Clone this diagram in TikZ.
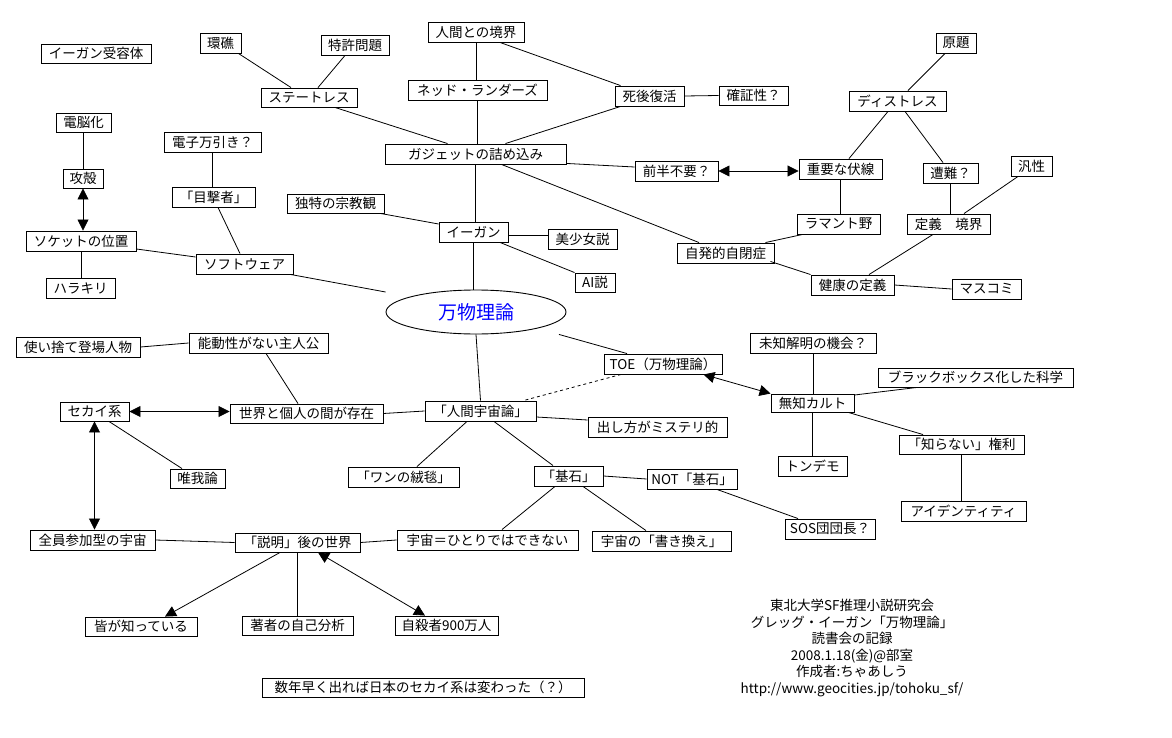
\documentclass[tikz,border=0pt]{standalone}
\usepackage{fontspec}
\setmainfont{Noto Sans CJK JP}
\usetikzlibrary{arrows.meta,shapes.geometric}
\newcommand\mybox[6]{\node[bx, minimum width={#4-#2}, minimum height={#5-#3}] (#1) at ({(#2+#4)/2},{(#3+#5)/2}) {#6};}
\begin{document}
\begin{tikzpicture}[x=1pt,y=-1pt,
  bx/.style={draw=black, line width=0.9pt, inner sep=0pt, fill=white, font=\fontsize{13.5}{15}\selectfont},
  ln/.style={draw=black, line width=0.8pt},
  arr/.style={ln, -{Triangle[length=11pt,width=11pt]}},
  darr/.style={ln, {Triangle[length=11pt,width=11pt]}-{Triangle[length=11pt,width=11pt]}}]
\fill[white] (0,0) rectangle (1172,738);
\useasboundingbox (0,0) rectangle (1172,738);
% boxes
\mybox{juyo}{41}{44}{151}{63}{イーガン受容体}
\mybox{kansho}{200}{33}{241}{53}{環礁}
\mybox{tokkyo}{321}{35}{389}{55}{特許問題}
\mybox{state}{261}{88}{357}{107}{ステートレス}
\mybox{dennou}{56}{113}{111}{132}{電脳化}
\mybox{manbiki}{164}{132}{261}{152}{電子万引き？}
\mybox{koukaku}{63}{169}{103}{188}{攻殻}
\mybox{mokugeki}{172}{187}{255}{207}{「目撃者」}
\mybox{shukyo}{287}{194}{384}{213}{独特の宗教観}
\mybox{socket}{26}{231}{136}{251}{ソケットの位置}
\mybox{soft}{196}{254}{293}{274}{ソフトウェア}
\mybox{harakiri}{46}{278}{115}{298}{ハラキリ}
\mybox{ningen}{428}{22}{524}{42}{人間との境界}
\mybox{ned}{408}{80}{547}{100}{ネッド・ランダーズ}
\mybox{shigo}{615}{86}{684}{106}{死後復活}
\mybox{kakusho}{719}{86}{788}{105}{確証性？}
\mybox{gadget}{385}{144}{566}{164}{ガジェットの詰め込み}
\mybox{zenhan}{635}{161}{718}{181}{前半不要？}
\mybox{egan}{439}{222}{508}{242}{イーガン}
\mybox{bishojo}{548}{229}{617}{249}{美少女説}
\mybox{ai}{575}{273}{615}{292}{AI説}
\mybox{jihei}{677}{243}{774}{263}{自発的自閉症}
\mybox{gendai}{936}{33}{976}{53}{原題}
\mybox{distress}{849}{91}{946}{111}{ディストレス}
\mybox{fukusen}{799}{159}{882}{179}{重要な伏線}
\mybox{sonan}{923}{163}{978}{183}{遭難？}
\mybox{hansei}{1011}{156}{1052}{176}{汎性}
\mybox{ramanto}{797}{214}{880}{234}{ラマント野}
\mybox{teigi}{907}{214}{990}{234}{定義　境界}
\mybox{kenko}{811}{275}{894}{295}{健康の定義}
\mybox{masukomi}{952}{279}{1021}{299}{マスコミ}
\mybox{tsukaisute}{16}{337}{140}{357}{使い捨て登場人物}
\mybox{noudou}{189}{333}{328}{353}{能動性がない主人公}
\mybox{sekai}{60}{402}{129}{421}{セカイ系}
\mybox{kojin}{230}{404}{383}{423}{世界と個人の間が存在}
\mybox{yuiga}{170}{469}{225}{488}{唯我論}
\mybox{zenin}{30}{530}{155}{550}{全員参加型の宇宙}
\mybox{setsumei}{235}{533}{360}{552}{「説明」後の世界}
\mybox{toe}{604}{354}{722}{374}{TOE（万物理論）}
\mybox{jinkan}{425}{401}{536}{421}{「人間宇宙論」}
\mybox{mystery}{588}{417}{727}{437}{出し方がミステリ的}
\mybox{wan}{348}{467}{459}{487}{「ワンの絨毯」}
\mybox{kiseki}{534}{466}{603}{486}{「基石」}
\mybox{notkiseki}{647}{469}{737}{489}{NOT「基石」}
\mybox{hitori}{397}{530}{578}{550}{宇宙＝ひとりではできない}
\mybox{kakikae}{592}{531}{731}{551}{宇宙の「書き換え」}
\mybox{michi}{750}{333}{876}{353}{未知解明の機会？}
\mybox{blackbox}{878}{368}{1073}{387}{ブラックボックス化した科学}
\mybox{muchi}{771}{394}{854}{412}{無知カルト}
\mybox{shiranai}{899}{435}{1024}{454}{「知らない」権利}
\mybox{tondemo}{778}{456}{847}{476}{トンデモ}
\mybox{identity}{901}{501}{1026}{521}{アイデンティティ}
\mybox{sos}{785}{519}{875}{539}{SOS団団長？}
\mybox{mina}{85}{617}{197}{636}{皆が知っている}
\mybox{chosha}{242}{616}{353}{635}{著者の自己分析}
\mybox{jisatsu}{395}{616}{498}{635}{自殺者900万人}
\mybox{banner}{262}{678}{584}{697}{数年早く出れば日本のセカイ系は変わった（？）}
\node[draw=black, line width=0.9pt, ellipse, minimum width=180pt, minimum height=44pt, inner sep=0pt,
  text=blue, font=\fontsize{19}{21}\selectfont] (riron) at (476,312) {万物理論};
\node[align=center, font=\fontsize{13.5}{16.6}\selectfont, inner sep=0pt] (credit) at (852,648)
  {東北大学SF推理小説研究会\\グレッグ・イーガン「万物理論」\\読書会の記録\\2008.1.18(金)@部室\\作成者:ちゃあしう\\http://www.geocities.jp/tohoku\_sf/};
% connectors
\draw[ln] ([xshift=-3pt]kansho.south east) -- ([xshift=-18pt]state.north);
\draw[ln] ([xshift=-10pt]tokkyo.south) -- ([xshift=9pt]state.north);
\draw[ln] ([xshift=26pt]state.south) -- ([xshift=-28pt]gadget.north);
\draw[ln] (ningen.south) -- (ningen.south |- ned.north);
\draw[ln] ([xshift=24pt]ningen.south) -- ([xshift=-29pt]shigo.north);
\draw[ln] (ned.south) -- (ned.south |- gadget.north);
\draw[ln] ([xshift=-29pt]shigo.south) -- ([xshift=30pt]gadget.north);
\draw[ln] (shigo.east) -- (kakusho.west);
\draw[ln] ([yshift=1pt]gadget.south east) -- ([yshift=4pt]zenhan.west);
\draw[darr] (zenhan.east) -- (zenhan.east -| fukusen.west);
\draw[ln] (gadget.south) -- (gadget.south |- egan.north);
\draw[ln] ([xshift=26pt]gadget.south) -- ([xshift=-26.5pt]jihei.north);
\draw[ln] ([xshift=-4pt]shukyo.south east) -- ([yshift=8pt]egan.west);
\draw[ln] ([yshift=-3pt]egan.east) -- ([yshift=-3pt]egan.east -| bishojo.west);
\draw[ln] ([xshift=26.5pt]egan.south) -- (ai.north west);
\draw[ln] (egan.south) -- (egan.south |- riron.north);
\draw[ln] ([xshift=-9pt]jihei.north east) -- ([xshift=6pt]ramanto.south west);
\draw[ln] ([xshift=-4pt,yshift=2pt]jihei.south east) -- (kenko.north west);
\draw[ln] ([xshift=10.5pt]distress.north) -- ([xshift=-11pt]gendai.south);
\draw[ln] ([xshift=-9.5pt]distress.south) -- ([xshift=8.5pt]fukusen.north);
\draw[ln] ([xshift=7.5pt]distress.south) -- ([xshift=-7.5pt]sonan.north);
\draw[ln] (fukusen.south) -- (fukusen.south |- ramanto.north);
\draw[ln] (sonan.south) -- (sonan.south |- teigi.north);
\draw[ln] ([xshift=-13.5pt]hansei.south) -- ([xshift=15.5pt]teigi.north);
\draw[ln] ([xshift=-15.5pt]teigi.south) -- ([xshift=16.5pt]kenko.north);
\draw[ln] (kenko.east) -- (masukomi.west);
\draw[ln] (dennou.south) -- (dennou.south |- koukaku.north);
\draw[darr] (koukaku.south) -- (koukaku.south |- socket.north);
\draw[ln] (socket.south) -- (socket.south |- harakiri.north);
\draw[ln] ([yshift=-8pt]socket.east) -- ([yshift=7pt]soft.west);
\draw[ln] (manbiki.south) -- (manbiki.south |- mokugeki.north);
\draw[ln] ([xshift=4.5pt]mokugeki.south) -- ([xshift=-4.5pt]soft.north);
\draw[ln] ([xshift=-3pt]soft.south east) -- ([yshift=20pt]riron.west);
\draw[ln] (tsukaisute.east) -- (noudou.west);
\draw[ln] ([xshift=7.5pt]noudou.south) -- ([xshift=-8.5pt]kojin.north);
\draw[darr] (sekai.east) -- (sekai.east -| kojin.west);
\draw[ln] (kojin.east) -- (jinkan.west);
\draw[ln] ([xshift=14.5pt]sekai.south) -- ([xshift=-15.5pt]yuiga.north);
\draw[darr] (sekai.south) -- (sekai.south |- zenin.north);
\draw[ln] (zenin.east) -- (setsumei.west);
\draw[ln] (setsumei.east) -- (hitori.west);
\draw[arr] ([xshift=-17.5pt]setsumei.south) -- ([xshift=24pt]mina.north);
\draw[ln] (setsumei.south) -- (setsumei.south |- chosha.north);
\draw[darr] ([xshift=20.5pt]setsumei.south) -- ([xshift=-21.5pt]jisatsu.north);
\draw[ln] (riron.south) -- (jinkan.north);
\draw[ln] ([xshift=83pt]riron.south) -- ([xshift=-36pt]toe.north);
\draw[ln, dashed] ([xshift=-42pt]toe.south) -- ([xshift=-13pt]jinkan.north east);
\draw[darr] ([xshift=-19pt]toe.south east) -- (muchi.north west);
\draw[ln] ([yshift=-6pt]jinkan.east) -- ([yshift=7pt]mystery.west);
\draw[ln] ([xshift=-13.5pt]jinkan.south) -- ([xshift=13.5pt]wan.north);
\draw[ln] ([xshift=13.5pt]jinkan.south) -- ([xshift=-15.5pt]kiseki.north);
\draw[ln] (kiseki.east) -- (notkiseki.west);
\draw[ln] ([xshift=-13.5pt]kiseki.south) -- ([xshift=14.5pt]hitori.north);
\draw[ln] ([xshift=14.5pt]kiseki.south) -- ([xshift=-15.5pt]kakikae.north);
\draw[ln] ([xshift=25pt]notkiseki.south) -- ([xshift=-32pt]sos.north);
\draw[ln] (michi.south) -- (michi.south |- muchi.north);
\draw[ln] ([xshift=-58.5pt]blackbox.south) -- ([yshift=8pt]muchi.east);
\draw[ln] ([xshift=-6pt]muchi.south east) -- ([xshift=-38.5pt]shiranai.north);
\draw[ln] (muchi.south) -- (muchi.south |- tondemo.north);
\draw[ln] (shiranai.south) -- (shiranai.south |- identity.north);
\end{tikzpicture}
\end{document}
